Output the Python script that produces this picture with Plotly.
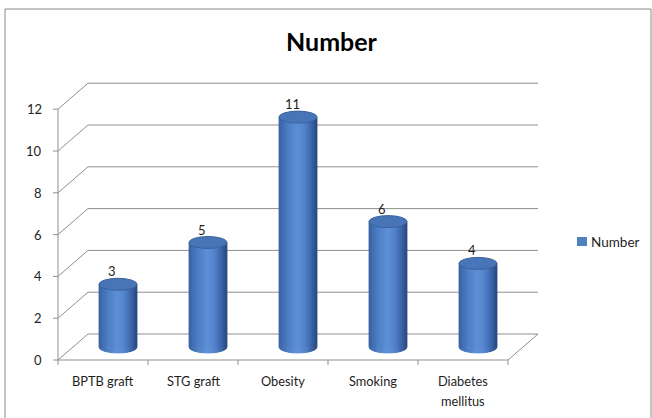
import numpy as np
import plotly.graph_objects as go

# ---- data -------------------------------------------------------------
categories = ["BPTB graft", "STG graft", "Obesity", "Smoking", "Diabetes\nmellitus"]
values = [3, 5, 11, 6, 4]
series_name = "Number"
y_ticks = [0, 2, 4, 6, 8, 10, 12]

# ---- canvas / pseudo-3D geometry --------------------------------------
W, H = 652, 418
PX_X = 90.0            # pixels per category slot
PX_Y = 20.9            # pixels per value unit
ORIGIN_PX = (103, 360) # pixel position of (category 0, value 0) on the front plane
X_RANGE = [-ORIGIN_PX[0] / PX_X, (W - ORIGIN_PX[0]) / PX_X]
Y_RANGE = [-(H - ORIGIN_PX[1]) / PX_Y, ORIGIN_PX[1] / PX_Y]
DX = 30 / PX_X         # depth offset (back wall) in x units
DY = 26 / PX_Y         # depth offset (back wall) in y units
HALF_W = 19 / PX_X     # cylinder radius in x units
RY = 6 / PX_Y          # vertical radius of the cylinder ellipses

GRID = "#8f8f8f"
TEXT = "#1e1e1e"
FONT = "Lato"
n = len(categories)
xl, xr = -0.5, n - 0.5
ymax = y_ticks[-1]

shapes = []


def line(x0, y0, x1, y1, color=GRID, width=1, layer="below"):
    shapes.append(dict(type="line", xref="x", yref="y", x0=x0, y0=y0, x1=x1, y1=y1,
                       line=dict(color=color, width=width), layer=layer))


# back-wall gridlines and left-wall diagonals
for t in y_ticks:
    line(xl + DX, t + DY, xr + DX, t + DY)
    line(xl, t, xl + DX, t + DY)
    line(xl - 5 / PX_X, t, xl, t)  # tick mark
# front value axis
line(xl, 0, xl, ymax)
# floor front edge, right edge and category ticks
line(xl, 0, xr, 0)
line(xr, 0, xr + DX, DY)
for k in range(n + 1):
    line(xl + k, 0, xl + k, -5 / PX_Y)

# cylinder shading across the width (u from -1 at left edge to 1 at right edge)
stops_u = [-1.0, -0.6, 0.0, 0.35, 0.75, 1.0]
stops_c = np.array([(56, 96, 160), (74, 122, 192), (94, 146, 217),
                    (84, 132, 204), (58, 100, 166), (40, 72, 126)], dtype=float)


def shade(u):
    rgb = [np.interp(u, stops_u, stops_c[:, c]) for c in range(3)]
    return "rgb(%d,%d,%d)" % tuple(int(round(v)) for v in rgb)


N_STRIPS = 32
u_edges = np.linspace(-1, 1, N_STRIPS + 1)
for i, v in enumerate(values):
    cx = i + DX / 2
    yb = DY / 2
    yt = v + DY / 2
    for a, b in zip(u_edges[:-1], u_edges[1:]):
        xa, xb = cx + HALF_W * a, cx + HALF_W * b
        ya = yb - RY * np.sqrt(max(0.0, 1 - a * a))
        ybb = yb - RY * np.sqrt(max(0.0, 1 - b * b))
        col = shade((a + b) / 2)
        shapes.append(dict(type="path", xref="x", yref="y", layer="above",
                           path=f"M{xa},{ya} L{xb},{ybb} L{xb},{yt} L{xa},{yt} Z",
                           fillcolor=col, line=dict(color=col, width=0.8)))
    # top cap
    shapes.append(dict(type="circle", xref="x", yref="y", layer="above",
                       x0=cx - HALF_W, x1=cx + HALF_W, y0=yt - RY, y1=yt + RY,
                       fillcolor="#4875b7", line=dict(color="#3a629c", width=1)))

# outer chart border
shapes.append(dict(type="rect", xref="paper", yref="paper",
                   x0=5 / W, x1=651 / W, y0=-0.05, y1=1 - 9 / H,
                   line=dict(color="#8a8a8a", width=1), fillcolor="rgba(0,0,0,0)",
                   layer="below"))
# legend swatch
shapes.append(dict(type="rect", xref="paper", yref="paper",
                   x0=577 / W, x1=587 / W, y0=1 - 246 / H, y1=1 - 237 / H,
                   line=dict(width=0), fillcolor="#4f81bd"))

annotations = []
# value axis labels
for t in y_ticks:
    annotations.append(dict(x=xl - 14 / PX_X, y=t, xref="x", yref="y", text=str(t),
                            showarrow=False, xanchor="right", yanchor="middle",
                            font=dict(family=FONT, size=13, color=TEXT)))
# category labels (multi-line names split over separate rows)
for i, name in enumerate(categories):
    for j, part in enumerate(name.split("\n")):
        annotations.append(dict(x=i, y=-(21 + 20 * j) / PX_Y, xref="x", yref="y",
                                text=part, showarrow=False, xanchor="center",
                                yanchor="middle",
                                font=dict(family=FONT, size=12.8, color=TEXT)))
# value labels above each cylinder
for i, v in enumerate(values):
    annotations.append(dict(x=i + 0.1, y=v + DY / 2 + RY + 7 / PX_Y, xref="x", yref="y",
                            text=str(v), showarrow=False, xanchor="center",
                            yanchor="middle",
                            font=dict(family=FONT, size=13, color=TEXT)))
# title
annotations.append(dict(x=332 / W, y=1 - 41 / H, xref="paper", yref="paper",
                        text=f"<b>{series_name}</b>", showarrow=False,
                        xanchor="center", yanchor="middle",
                        font=dict(family=FONT, size=25, color="#000000")))
# legend text
annotations.append(dict(x=589 / W, y=1 - 241.5 / H, xref="paper", yref="paper",
                        text=series_name, showarrow=False, xanchor="left",
                        yanchor="middle",
                        font=dict(family=FONT, size=13.5, color=TEXT)))

fig = go.Figure()
# flat core of each cylinder; shading is layered on top
fig.add_trace(go.Bar(x=[i + DX / 2 for i in range(n)], y=values, base=DY / 2,
                     width=2 * HALF_W, marker=dict(color="#4f81bd", line=dict(width=0)),
                     name=series_name, showlegend=False, hoverinfo="skip"))

fig.update_layout(
    width=W, height=H,
    margin=dict(l=0, r=0, t=0, b=0),
    paper_bgcolor="white", plot_bgcolor="white",
    xaxis=dict(range=X_RANGE, visible=False, fixedrange=True),
    yaxis=dict(range=Y_RANGE, visible=False, fixedrange=True),
    shapes=shapes, annotations=annotations,
    showlegend=False,
)

fig.write_html("out.html")
